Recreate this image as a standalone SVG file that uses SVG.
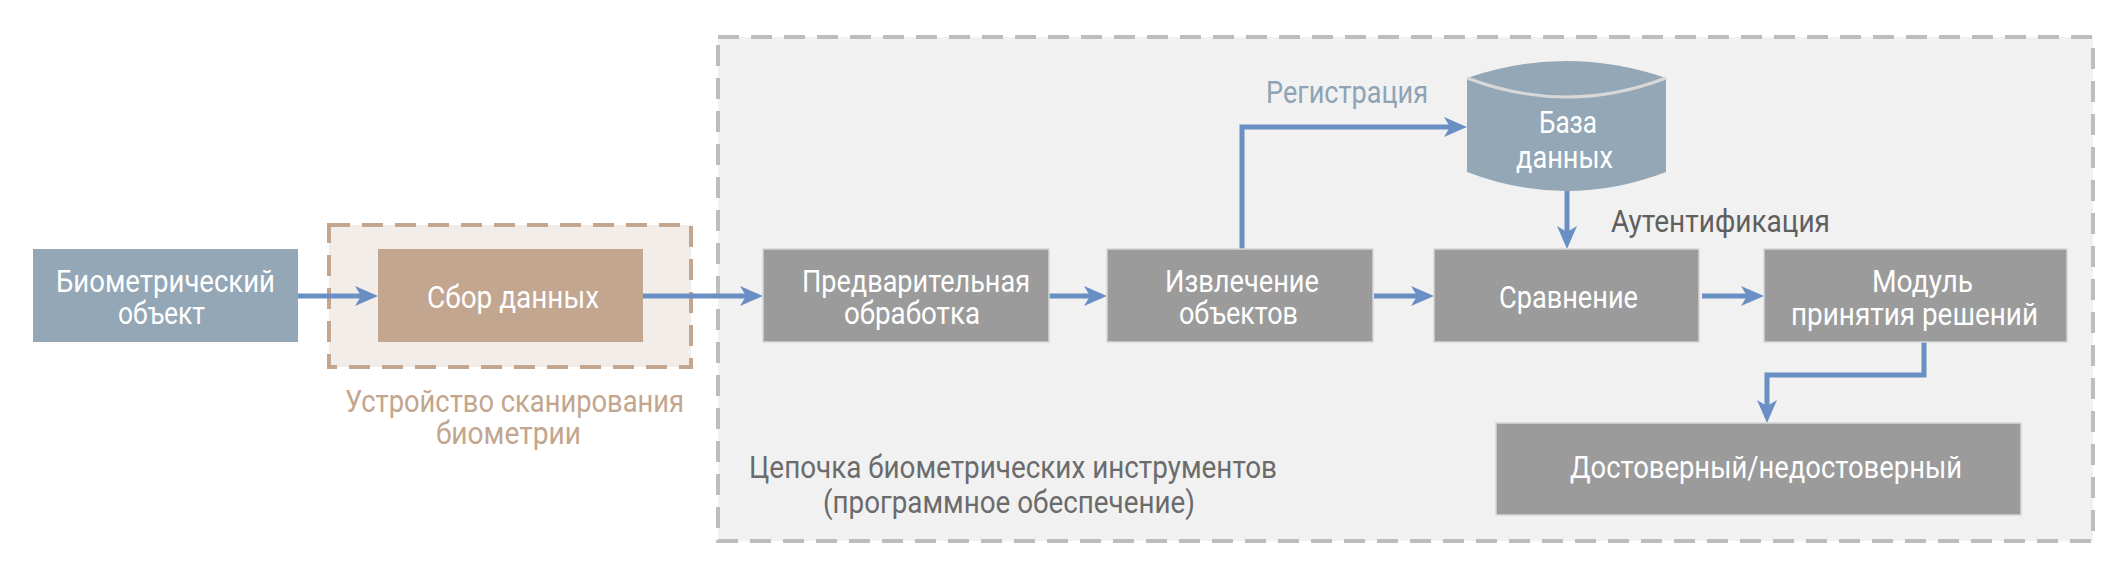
<svg xmlns="http://www.w3.org/2000/svg" width="2125" height="573" viewBox="0 0 2125 573">
  <style>
    .t { font-family: Roboto, "Liberation Sans", "DejaVu Sans", sans-serif; font-size: 32px; }
    .w { fill: #ffffff; }
    .gbox { fill: #9b9b9b; stroke: #d6d6d6; stroke-width: 1.5; }
    .bbox { fill: #94a7b6; }
    .tbox { fill: #c2a690; }
    .conn { fill: none; stroke: #6a8fc4; stroke-width: 5; stroke-linejoin: miter; }
  </style>
  <defs>
    <marker id="ah" markerUnits="userSpaceOnUse" viewBox="-16 -12 30 24" markerWidth="30" markerHeight="24" refX="0" refY="0" orient="auto" overflow="visible">
      <path d="M-13,-10 L10,0 L-13,10 L-7,0 Z" fill="#6a8fc4"/>
    </marker>
  </defs>
  <rect width="2125" height="573" fill="#ffffff"/>

  <g id="software-area">
    <rect x="718" y="37" width="1375" height="504" fill="#f1f1f1" stroke="#bdbdbd" stroke-width="4" stroke-dasharray="21 12"/>
    <text class="t" x="749" y="478" fill="#6b6b6b" textLength="528" lengthAdjust="spacingAndGlyphs">Цепочка биометрических инструментов</text>
    <text class="t" x="823" y="513" fill="#6b6b6b" textLength="372" lengthAdjust="spacingAndGlyphs">(программное обеспечение)</text>
  </g>

  <g id="scanner-area">
    <rect x="329" y="225" width="362" height="142" fill="#f2ede9" stroke="#c4a58d" stroke-width="4" stroke-dasharray="21 12"/>
    <text class="t" x="345" y="412" fill="#c4a58d" textLength="339" lengthAdjust="spacingAndGlyphs">Устройство сканирования</text>
    <text class="t" x="436" y="444" fill="#c4a58d" textLength="145" lengthAdjust="spacingAndGlyphs">биометрии</text>
  </g>

  <g id="connectors">
    <path class="conn" d="M298,296 H368" marker-end="url(#ah)"/>
    <path class="conn" d="M643,296 H753" marker-end="url(#ah)"/>
    <path class="conn" d="M1049,296 H1097" marker-end="url(#ah)"/>
    <path class="conn" d="M1374,296 H1424" marker-end="url(#ah)"/>
    <path class="conn" d="M1702,296 H1754" marker-end="url(#ah)"/>
    <path class="conn" d="M1242,249 V127 H1457" marker-end="url(#ah)"/>
    <path class="conn" d="M1567,191 V239" marker-end="url(#ah)"/>
    <path class="conn" d="M1924,342 V375 H1767 V413" marker-end="url(#ah)"/>
    <text class="t" x="1266" y="103" fill="#8ea3b5" textLength="162" lengthAdjust="spacingAndGlyphs">Регистрация</text>
    <text class="t" x="1611" y="232" fill="#5f5f5f" textLength="219" lengthAdjust="spacingAndGlyphs">Аутентификация</text>
  </g>

  <g id="biometric-object">
    <rect class="bbox" x="33" y="249" width="265" height="93"/>
    <text class="t w" x="56" y="292" textLength="219" lengthAdjust="spacingAndGlyphs">Биометрический</text>
    <text class="t w" x="118" y="324" textLength="87" lengthAdjust="spacingAndGlyphs">объект</text>
  </g>

  <g id="data-capture">
    <rect class="tbox" x="378" y="249" width="265" height="93"/>
    <text class="t w" x="427" y="308" textLength="172" lengthAdjust="spacingAndGlyphs">Сбор данных</text>
  </g>

  <g id="preprocessing">
    <rect class="gbox" x="763" y="249" width="286" height="93"/>
    <text class="t w" x="802" y="292" textLength="228" lengthAdjust="spacingAndGlyphs">Предварительная</text>
    <text class="t w" x="844" y="324" textLength="136" lengthAdjust="spacingAndGlyphs">обработка</text>
  </g>

  <g id="feature-extraction">
    <rect class="gbox" x="1107" y="249" width="266" height="93"/>
    <text class="t w" x="1165" y="292" textLength="154" lengthAdjust="spacingAndGlyphs">Извлечение</text>
    <text class="t w" x="1179" y="324" textLength="119" lengthAdjust="spacingAndGlyphs">объектов</text>
  </g>

  <g id="database">
    <path class="bbox" d="M1467,78 Q1566.5,44 1666,78 V172 Q1566.5,210 1467,172 Z"/>
    <path d="M1467,78 Q1566.5,116 1666,78" fill="none" stroke="#d8d8d8" stroke-width="3"/>
    <text class="t w" x="1539" y="133" textLength="58" lengthAdjust="spacingAndGlyphs">База</text>
    <text class="t w" x="1516" y="168" textLength="97" lengthAdjust="spacingAndGlyphs">данных</text>
  </g>

  <g id="matching">
    <rect class="gbox" x="1434" y="249" width="265" height="93"/>
    <text class="t w" x="1499" y="308" textLength="139" lengthAdjust="spacingAndGlyphs">Сравнение</text>
  </g>

  <g id="decision-module">
    <rect class="gbox" x="1764" y="249" width="303" height="93"/>
    <text class="t w" x="1872" y="292" textLength="101" lengthAdjust="spacingAndGlyphs">Модуль</text>
    <text class="t w" x="1791" y="325" textLength="247" lengthAdjust="spacingAndGlyphs">принятия решений</text>
  </g>

  <g id="result">
    <rect class="gbox" x="1496" y="423" width="525" height="92"/>
    <text class="t w" x="1570" y="478" textLength="392" lengthAdjust="spacingAndGlyphs">Достоверный/недостоверный</text>
  </g>
</svg>
